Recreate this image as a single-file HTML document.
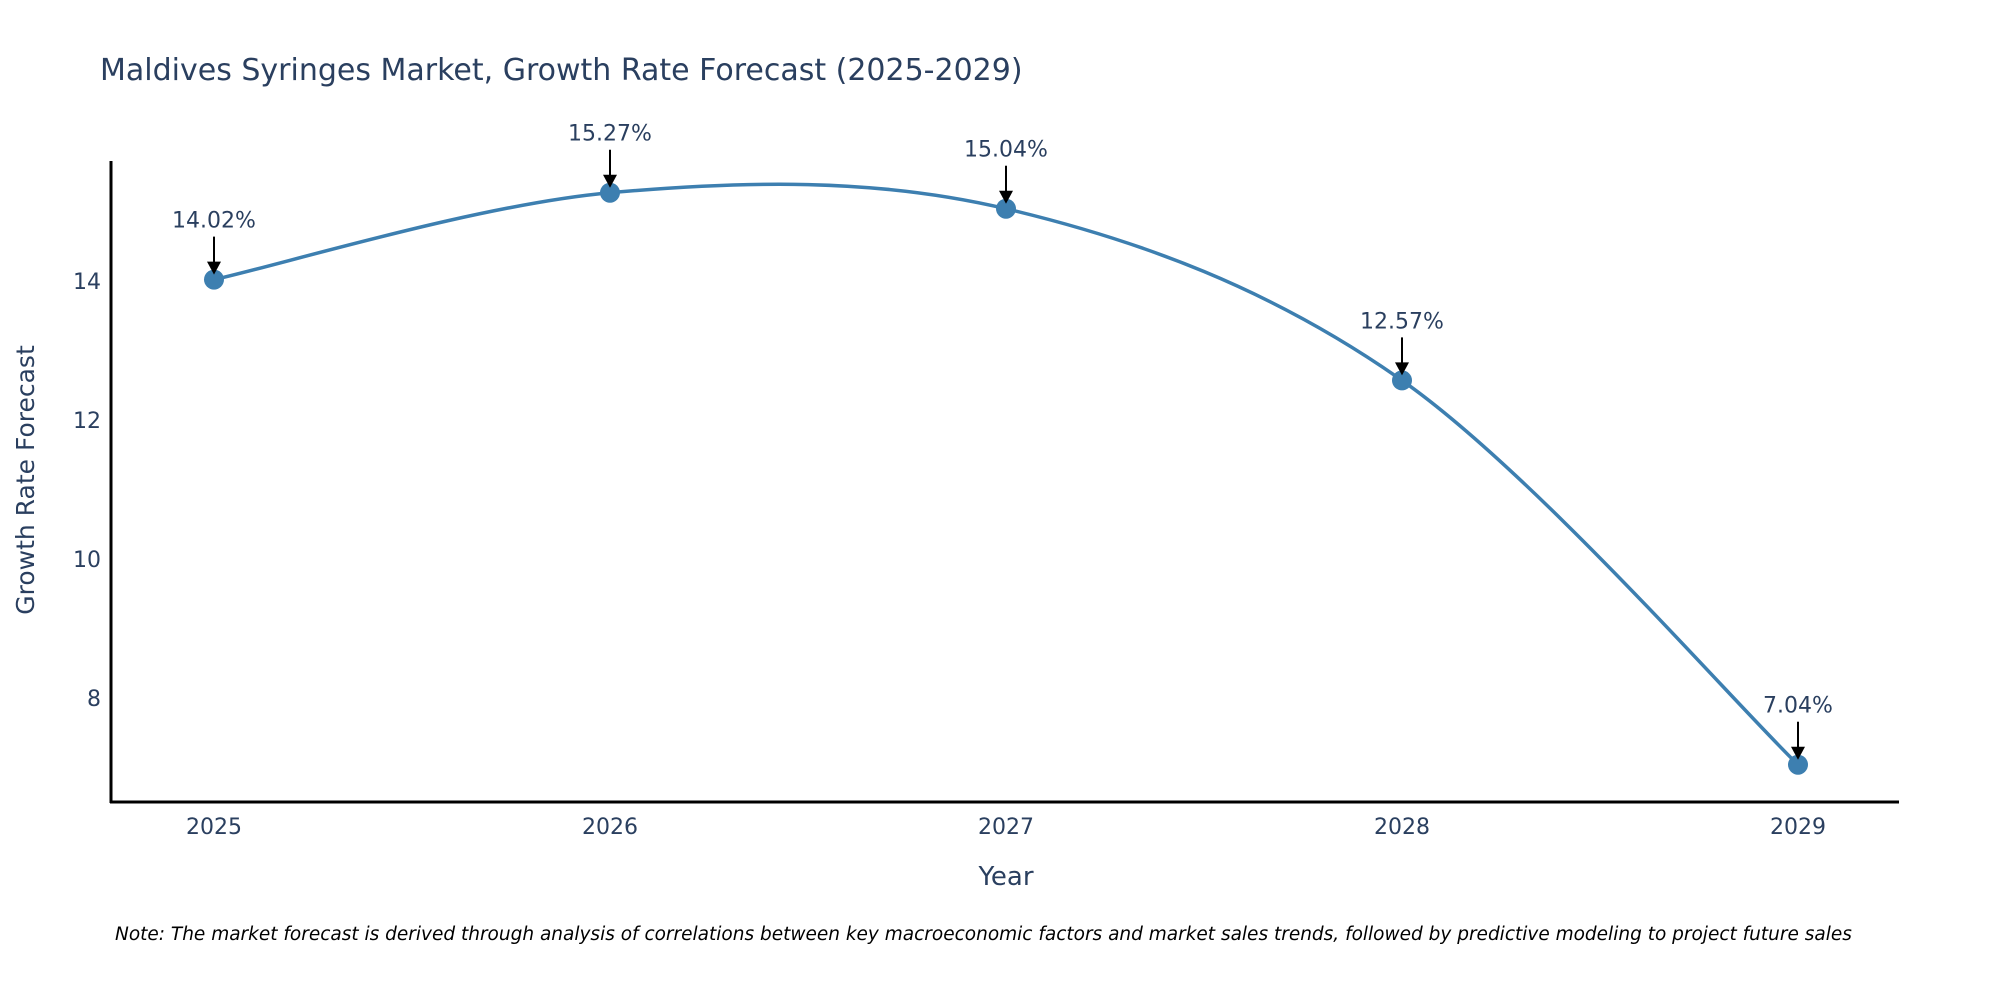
<!DOCTYPE html>
<html><head><meta charset="utf-8"><style>
html,body{margin:0;padding:0;background:#fff}
svg text{font-family:"DejaVu Sans","Liberation Sans",sans-serif}
</style></head><body>
<svg id="chart" width="2000" height="1000" viewBox="0 0 2000 1000" xmlns="http://www.w3.org/2000/svg">
<text x="100" y="80" font-size="30" fill="#2a3f5f">Maldives Syringes Market, Growth Rate Forecast (2025-2029)</text>
<g id="yticks"></g>
<g id="xticks"></g>
<line x1="111" y1="161" x2="111" y2="803" stroke="#000" stroke-width="3"/>
<line x1="110" y1="802" x2="1899" y2="802" stroke="#000" stroke-width="3"/>
<path id="series" fill="none" stroke="#3d7fb0" stroke-width="3.5"/>
<g id="points"></g>
<g id="annots"></g>
<text transform="translate(34,480) rotate(-90)" text-anchor="middle" font-size="25" fill="#2a3f5f">Growth Rate Forecast</text>
<text x="1006" y="885" text-anchor="middle" font-size="26" fill="#2a3f5f">Year</text>
<text x="115" y="940" font-size="18.5" font-style="italic" fill="#000">Note: The market forecast is derived through analysis of correlations between key macroeconomic factors and market sales trends, followed by predictive modeling to project future sales</text>
</svg>
<script>
const years = [2025, 2026, 2027, 2028, 2029];
const growth = [14.02, 15.27, 15.04, 12.57, 7.04];
const labels = ["14.02%", "15.27%", "15.04%", "12.57%", "7.04%"];
const yTicks = [8, 10, 12, 14];
const NS = "http://www.w3.org/2000/svg";
function xs(v){ return 214 + (v - 2025) * 396; }
function ys(v){ return 281 - (v - 14) * 69.5; }
function mk(tag, attrs, parent){ const e=document.createElementNS(NS,tag); for(const k in attrs) e.setAttribute(k,attrs[k]); parent.appendChild(e); return e; }
const yt=document.getElementById('yticks');
yTicks.forEach(t=>{
  const e=mk('text',{x:101,y:ys(t)+8,'text-anchor':'end','font-size':22,fill:'#2a3f5f'},yt);
  
  
  e.textContent=t;
});
const xt=document.getElementById('xticks');
years.forEach(y=>{
  const e=mk('text',{x:xs(y),y:834,'text-anchor':'middle','font-size':22,fill:'#2a3f5f'},xt);
  
  
  e.textContent=y;
});
const P=years.map((y,i)=>[xs(y),ys(growth[i])]);
let d='M'+P[0][0]+','+P[0][1];
const t=1/6;
for(let i=0;i<P.length-1;i++){
  const p0=P[Math.max(0,i-1)],p1=P[i],p2=P[i+1],p3=P[Math.min(P.length-1,i+2)];
  const c1=[p1[0]+(p2[0]-p0[0])*t,p1[1]+(p2[1]-p0[1])*t];
  const c2=[p2[0]-(p3[0]-p1[0])*t,p2[1]-(p3[1]-p1[1])*t];
  d+=' C'+c1[0]+','+c1[1]+' '+c2[0]+','+c2[1]+' '+p2[0]+','+p2[1];
}
document.getElementById('series').setAttribute('d',d);
const pts=document.getElementById('points'), an=document.getElementById('annots');
P.forEach((p,i)=>{
  const c=mk('circle',{cx:p[0],cy:p[1],r:10,fill:'#3d7fb0'},pts);
  
  
  const l=mk('line',{x1:p[0],y1:p[1]-43,x2:p[0],y2:p[1]-16,stroke:'#000','stroke-width':2},an);
  
  
  const h=mk('polygon',{points:(p[0]-7)+','+(p[1]-18)+' '+(p[0]+7)+','+(p[1]-18)+' '+p[0]+','+(p[1]-5),fill:'#000'},an);
  
  
  const tx=mk('text',{x:p[0],y:p[1]-52,'text-anchor':'middle','font-size':22,fill:'#2a3f5f'},an);
  
  
  tx.textContent=labels[i];
});
</script>
</body></html>
